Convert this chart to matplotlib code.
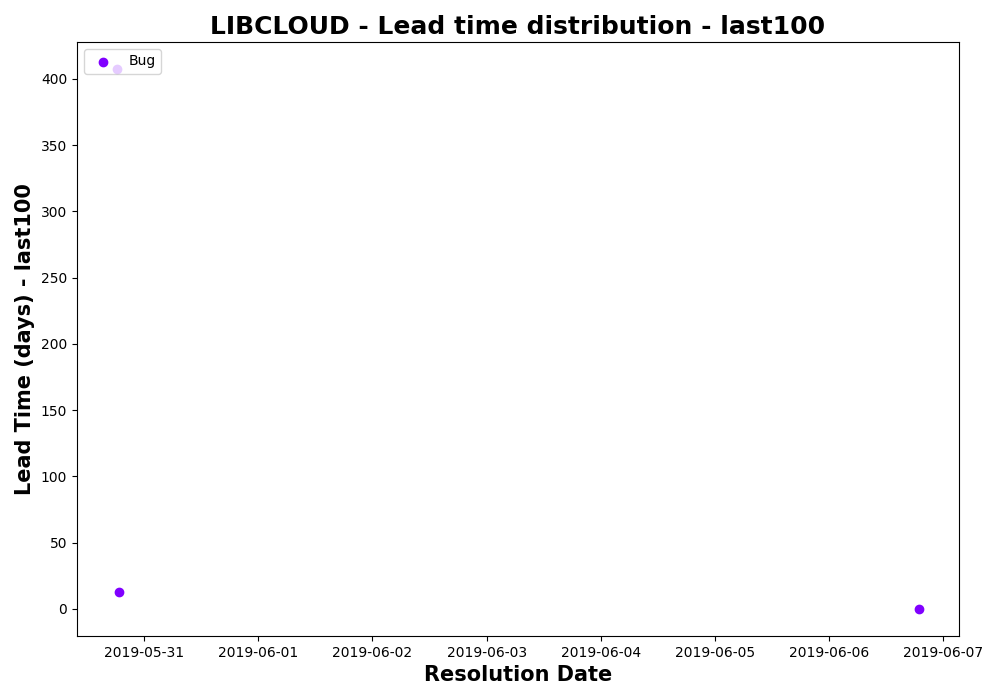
import matplotlib
matplotlib.use("Agg")
import matplotlib.pyplot as plt
import pandas as pd

dates = ["2019-05-30 18:18", "2019-05-30 18:45", "2019-06-06 18:53"]
lead_times = [407.5, 12.6, 0.0]
label = "Bug"

x = pd.to_datetime(dates)
fig = plt.figure(figsize=(10, 7), dpi=100)
ax = fig.add_axes([0.077, 0.0915, 0.882, 0.8485])
ax.scatter(x, lead_times, color=plt.cm.rainbow(0.0), label=label)
ax.set_title("LIBCLOUD - Lead time distribution - last100", fontsize=18, fontweight="bold")
ax.set_xlabel("Resolution Date", fontsize=15, fontweight="bold")
ax.set_ylabel("Lead Time (days) - last100", fontsize=15, fontweight="bold")
ax.legend(loc="upper left")
fig.savefig("out.png")
